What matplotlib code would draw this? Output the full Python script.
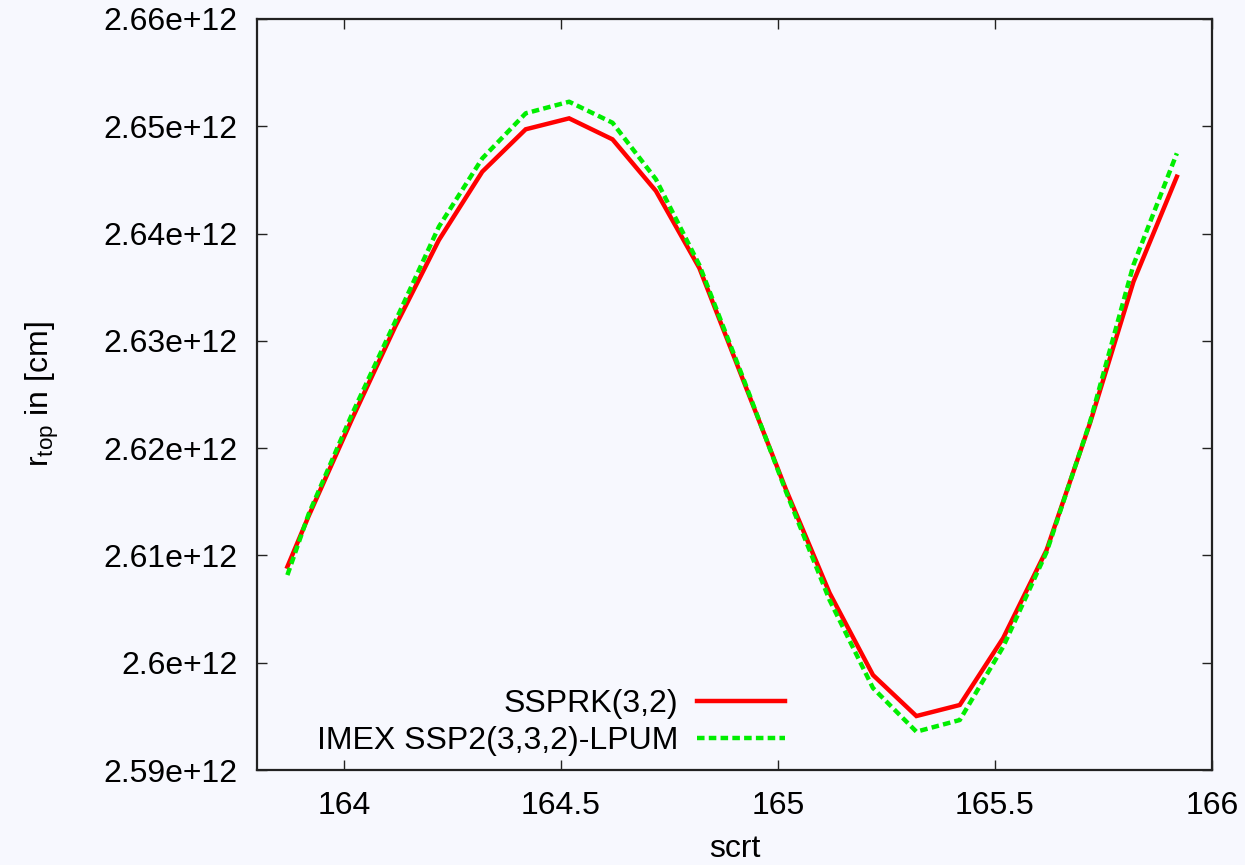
import matplotlib
matplotlib.use("Agg")
import matplotlib.pyplot as plt

# ---- data ----
scrt = [163.87, 163.919, 164.019, 164.119, 164.219, 164.319, 164.419, 164.519,
        164.619, 164.719, 164.819, 164.919, 165.019, 165.119, 165.219, 165.319,
        165.419, 165.519, 165.619, 165.719, 165.819, 165.919]
r_ssprk = [2.60895, 2.61367, 2.62272, 2.63138, 2.63940, 2.64577, 2.64972, 2.65074,
           2.64878, 2.64397, 2.63679, 2.62644, 2.61610, 2.60650, 2.59885, 2.59503,
           2.59606, 2.60230, 2.61051, 2.62234, 2.63551, 2.64530]
r_imex = [2.60817, 2.61386, 2.62318, 2.63185, 2.64064, 2.64701, 2.65121, 2.65229,
          2.65033, 2.64506, 2.63707, 2.62663, 2.61591, 2.60584, 2.59764, 2.59357,
          2.59466, 2.60149, 2.61032, 2.62244, 2.63707, 2.64748]
r_ssprk = [v * 1e12 for v in r_ssprk]
r_imex = [v * 1e12 for v in r_imex]

series_labels = ["SSPRK(3,2)", "IMEX SSP2(3,3,2)-LPUM"]
xticks = [164, 164.5, 165, 165.5, 166]
xtick_labels = ["164", "164.5", "165", "165.5", "166"]
yticks = [2.59e12, 2.60e12, 2.61e12, 2.62e12, 2.63e12, 2.64e12, 2.65e12, 2.66e12]
ytick_labels = ["2.59e+12", "2.6e+12", "2.61e+12", "2.62e+12", "2.63e+12",
                "2.64e+12", "2.65e+12", "2.66e+12"]

# ---- style ----
plt.rcParams["font.family"] = ["Liberation Sans", "DejaVu Sans"]
plt.rcParams["mathtext.fontset"] = "custom"
plt.rcParams["mathtext.rm"] = "Liberation Sans"
plt.rcParams["mathtext.it"] = "Liberation Sans"
plt.rcParams["mathtext.default"] = "regular"

FS = 23
bg = "#f7f8fe"
fig = plt.figure(figsize=(12.45, 8.65), dpi=100, facecolor=bg)
ax = fig.add_axes([257 / 1245, 1 - 770 / 865, (1212 - 257) / 1245, (770 - 19) / 865])
ax.set_facecolor(bg)

ax.plot(scrt, r_ssprk, color="#ff0000", lw=3.2, label=series_labels[0],
        solid_joinstyle="miter")
ax.plot(scrt, r_imex, color="#00ee00", lw=3.2, label=series_labels[1],
        dashes=(1.7, 0.95), dash_capstyle="butt")

ax.set_xlim(163.8, 166)
ax.set_ylim(2.59e12, 2.66e12)
ax.set_xticks(xticks)
ax.set_xticklabels(xtick_labels)
ax.set_yticks(yticks)
ax.set_yticklabels(ytick_labels)

ax.tick_params(axis="both", which="major", direction="in", length=7, width=1.0,
               labelsize=FS, top=True, right=True, color="#222222")
ax.tick_params(axis="y", pad=14)
ax.tick_params(axis="x", pad=15)
for s in ax.spines.values():
    s.set_linewidth(1.6)
    s.set_color("#222222")

ax.set_xlabel("scrt", fontsize=FS)
ax.set_ylabel(r"r$_{top}$ in [cm]", fontsize=FS)
ax.xaxis.set_label_coords(0.5, -0.085)
ax.yaxis.set_label_coords(-0.205, 0.5)

leg = ax.legend(loc="lower right", bbox_to_anchor=(0.553, 0.019), frameon=False,
                markerfirst=False, fontsize=FS, handlelength=2.75,
                handletextpad=0.6, labelspacing=0.2, borderaxespad=0.0,
                borderpad=0.0)

fig.savefig("out.png", dpi=100, facecolor=bg)
